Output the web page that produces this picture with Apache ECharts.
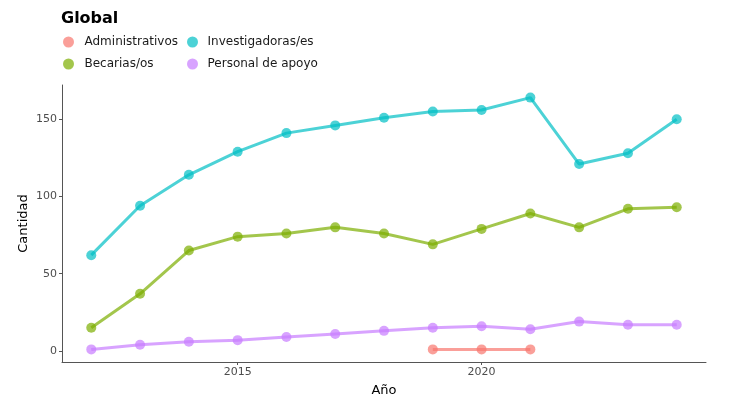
<!DOCTYPE html>
<html>
<head>
<meta charset="utf-8">
<script src="https://cdn.jsdelivr.net/npm/echarts@6/dist/echarts.min.js"></script>
<style>html,body{margin:0;padding:0;background:#fff}#c{width:743px;height:409px}</style>
</head>
<body>
<div id="c"></div>
<script>
const years = [2012,2013,2014,2015,2016,2017,2018,2019,2020,2021,2022,2023,2024];
const administrativos = [null,null,null,null,null,null,null,1,1,1,null,null,null];
const becarias = [15,37,65,74,76,80,76,69,79,89,80,92,93];
const investigadoras = [62,94,114,129,141,146,151,155,156,164,121,128,150];
const personalApoyo = [1,4,6,7,9,11,13,15,16,14,19,17,17];
const yTicks = [0,50,100,150];
const xTicks = [2015,2020];

function pairs(vals){ const out=[]; vals.forEach((v,i)=>{ if(v!==null) out.push([years[i],v]); }); return out; }

const colors = {
  'Administrativos':'#F8766D',
  'Becarias/os':'#7CAE00',
  'Investigadoras/es':'#00BFC4',
  'Personal de apoyo':'#C77CFF'
};
function mk(name, vals){
  return {
    name, type:'line', data:pairs(vals), symbol:'circle', symbolSize:10,
    color: colors[name],
    lineStyle:{width:3, opacity:0.7, color:colors[name]},
    itemStyle:{opacity:0.7, color:colors[name]},
    emphasis:{disabled:true}
  };
}
const chart = echarts.init(document.getElementById('c'));
const txt = '#4D4D4D';
chart.setOption({
  animation:false,
  title:{text:'Global', left:61, top:11, padding:0, textStyle:{fontFamily:'DejaVu Sans', fontWeight:'bold', fontSize:16, color:'#000'}},
  legend:[
    {orient:'vertical', left:63, top:36, padding:0, itemGap:10, itemWidth:12, itemHeight:11, icon:'circle',
     data:['Administrativos','Becarias/os'], textStyle:{fontFamily:'DejaVu Sans', fontSize:12, color:'#1a1a1a', padding:[0,0,0,5]}},
    {orient:'vertical', left:187, top:36, padding:0, itemGap:10, itemWidth:12, itemHeight:11, icon:'circle',
     data:['Investigadoras/es','Personal de apoyo'], textStyle:{fontFamily:'DejaVu Sans', fontSize:12, color:'#1a1a1a', padding:[0,0,0,4]}}
  ],
  grid:{left:62, right:37, top:85, bottom:47},
  xAxis:{type:'value', min:2011.4, max:2024.6, name:'Año', nameLocation:'middle', nameGap:22,
    nameTextStyle:{fontFamily:'DejaVu Sans', fontSize:13, color:'#000'},
    splitLine:{show:false},
    axisLine:{show:true, onZero:false, lineStyle:{color:'#555', width:1}},
    axisTick:{show:true, length:3, customValues:xTicks, lineStyle:{color:'#555'}},
    axisLabel:{customValues:xTicks, fontFamily:'DejaVu Sans', fontSize:11, color:txt, margin:5, formatter:v=>String(v)}
  },
  yAxis:{type:'value', min:-7.15, max:172.15, name:'Cantidad', nameLocation:'middle', nameGap:32, nameRotate:90, nameMoveOverlap:false,
    nameTextStyle:{fontFamily:'DejaVu Sans', fontSize:13, color:'#000'},
    splitLine:{show:false},
    axisLine:{show:true, onZero:false, lineStyle:{color:'#555', width:1}},
    axisTick:{show:true, length:3, customValues:yTicks, lineStyle:{color:'#555'}},
    axisLabel:{customValues:yTicks, fontFamily:'DejaVu Sans', fontSize:11, color:txt, margin:5}
  },
  series:[
    mk('Administrativos', administrativos),
    mk('Becarias/os', becarias),
    mk('Investigadoras/es', investigadoras),
    mk('Personal de apoyo', personalApoyo)
  ]
});
</script>
</body>
</html>
